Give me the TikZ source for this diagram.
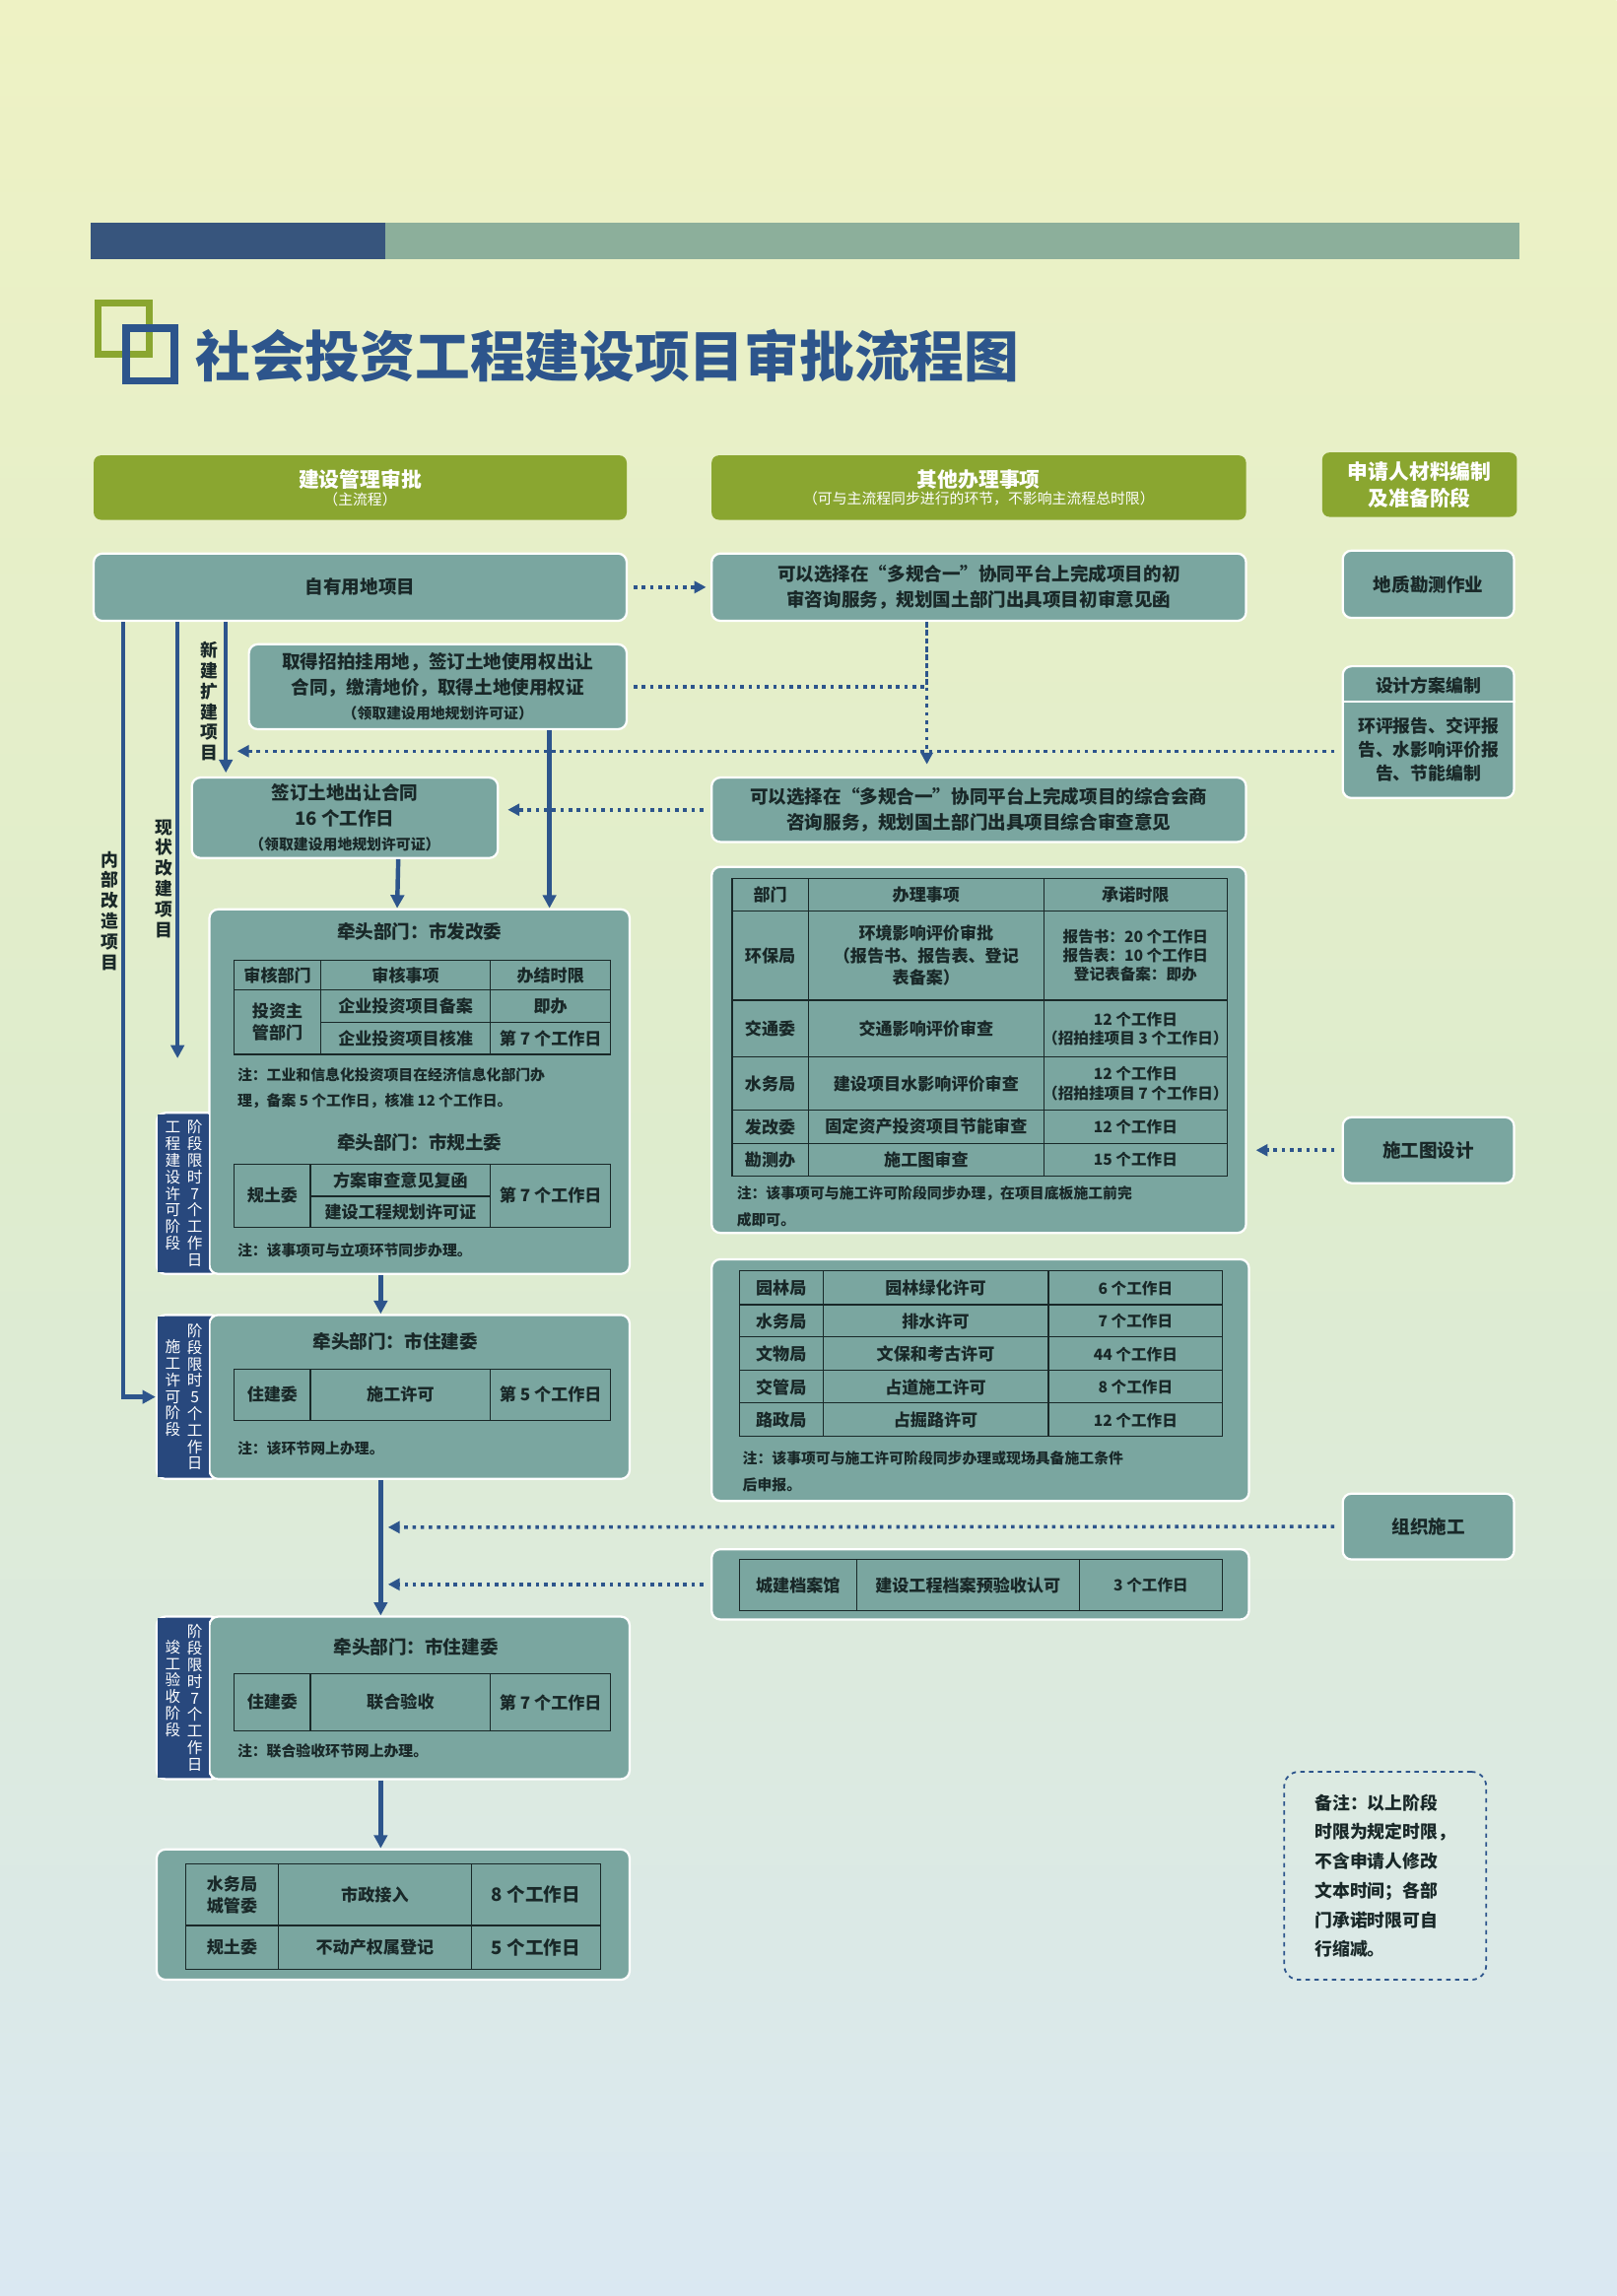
\documentclass[tikz,border=0pt]{standalone}
\usepackage{fontspec}
\setmainfont{Noto Sans CJK SC}
\usepackage{xcolor}
\usetikzlibrary{arrows.meta, positioning, calc}

\definecolor{boxc}{RGB}{122,166,160}
\definecolor{headc}{RGB}{138,166,48}
\definecolor{flowc}{RGB}{45,85,140}
\definecolor{tabc}{RGB}{40,72,125}
\definecolor{inkc}{RGB}{25,40,40}
\definecolor{barA}{RGB}{55,85,125}
\definecolor{barB}{RGB}{140,175,155}

\tikzset{
  tbox/.style={draw=white, line width=1.5pt, fill=boxc, rounded corners=6pt, text=inkc,
    font=\bfseries\fontsize{12.5}{17}\selectfont, align=center, inner sep=2pt},
  hbox/.style={fill=headc, rounded corners=5pt, text=white, align=center, inner sep=2pt},
  tabbox/.style={fill=tabc, draw=white, line width=1.5pt, rounded corners=6pt},
  vtxt/.style={text=white, align=center, inner sep=0pt, font=\fontsize{10.5}{11.3}\selectfont},
  vlab/.style={text=inkc, align=center, inner sep=0pt, font=\bfseries\fontsize{12}{14}\selectfont},
  cell/.style={text=inkc, align=center, inner sep=0pt, font=\bfseries\fontsize{11.5}{15}\selectfont},
  small/.style={cell, font=\bfseries\fontsize{10.5}{13}\selectfont},
  note/.style={text=inkc, align=left, anchor=west, inner sep=0pt, font=\bfseries\fontsize{10}{13}\selectfont},
  grid/.style={draw=inkc, line width=0.8pt},
  arr/.style={draw=flowc, line width=3pt, -{Triangle[length=9pt,width=9pt]}},
  dotarr/.style={draw=flowc, line width=2.4pt, dash pattern=on 2.4pt off 3.2pt, -{Triangle[length=8pt,width=8pt]}},
  dotline/.style={draw=flowc, line width=2.4pt, dash pattern=on 2.4pt off 3.2pt}
}

\begin{document}
\begin{tikzpicture}[x=1pt, y=-1pt]
  % page
  \useasboundingbox (0,0) rectangle (1104,1568);
  \shade[top color={rgb,255:red,238;green,242;blue,196}, bottom color={rgb,255:red,218;green,232;blue,242},
    middle color={rgb,255:red,222;green,236;blue,205}] (0,0) rectangle (1104,1568);

  % top bar and title
  \fill[barB] (62,152) rectangle (1038,177);
  \fill[barA] (62,152) rectangle (263,177);
  \draw[headc, line width=5pt] (67,207) rectangle (102,242);
  \draw[flowc, line width=5pt] (86,224) rectangle (119,260);
  \node[anchor=west, text=flowc, font=\bfseries\fontsize{37.5}{42}\selectfont] (title) at (130,243) {社会投资工程建设项目审批流程图};

  % column heads
  \node[hbox, minimum width=364pt, minimum height=44pt] (hA) at (246,333)
    {{\bfseries\fontsize{14}{17}\selectfont 建设管理审批}\\{\fontsize{10}{12}\selectfont （主流程）}};
  \node[hbox, minimum width=365pt, minimum height=44pt] (hB) at (668.5,333)
    {{\bfseries\fontsize{14}{17}\selectfont 其他办理事项}\\{\fontsize{10}{12}\selectfont （可与主流程同步进行的环节，不影响主流程总时限）}};
  \node[hbox, minimum width=133pt, minimum height=44pt, font=\bfseries\fontsize{14}{18}\selectfont] (hC) at (969.5,331)
    {申请人材料编制\\及准备阶段};

  % first row
  \node[tbox, minimum width=364pt, minimum height=46pt] (own) at (246,401) {自有用地项目};
  \node[tbox, minimum width=365pt, minimum height=46pt] (pre1) at (668.5,401)
    {可以选择在“多规合一”协同平台上完成项目的初\\审咨询服务，规划国土部门出具项目初审意见函};
  \node[tbox, minimum width=117pt, minimum height=46pt] (geo) at (975.5,399) {地质勘测作业};
  \node[tbox, minimum width=258pt, minimum height=58pt] (land) at (299,469)
    {取得招拍挂用地，签订土地使用权出让\\合同，缴清地价，取得土地使用权证\\{\fontsize{10}{13}\selectfont （领取建设用地规划许可证）}};
  \node[tbox, minimum width=117pt, minimum height=90pt] (design) at (975.5,500) {};
  \draw[white, line width=1.5pt] ([yshift=-25pt]design.north west) -- ([yshift=-25pt]design.north east);
  \node[cell, font=\bfseries\fontsize{12}{15}\selectfont] (designA) at (975.5,468) {设计方案编制};
  \node[cell, font=\bfseries\fontsize{12}{16}\selectfont] (designB) at (975.5,512) {环评报告、交评报\\告、水影响评价报\\告、节能编制};
  \node[tbox, minimum width=209pt, minimum height=55pt] (sign) at (235.5,558.5)
    {签订土地出让合同\\16 个工作日\\{\fontsize{10}{13}\selectfont （领取建设用地规划许可证）}};
  \node[tbox, minimum width=365pt, minimum height=44pt] (pre2) at (668.5,553)
    {可以选择在“多规合一”协同平台上完成项目的综合会商\\咨询服务，规划国土部门出具项目综合审查意见};

  % stage 1
  \node[tabbox, minimum width=43pt, minimum height=110pt] (tab1) at (128.5,815) {};
  \node[tbox, minimum width=287pt, minimum height=249pt] (b1) at (286.5,745.5) {};
  \fill[tabc] (107.8,761) rectangle (143,869);
  \node[vtxt] (tab1a) at (133,815) {阶\\段\\限\\时\\7\\个\\工\\作\\日};
  \node[vtxt] (tab1b) at (118,810) {工\\程\\建\\设\\许\\可\\阶\\段};
  \node[cell, font=\bfseries\fontsize{12.5}{15}\selectfont] (lead1) at (286.5,636) {牵头部门：市发改委};
  \draw[grid] (160,656) rectangle (417,720) (160,676) -- (417,676) (219,698) -- (417,698)
    (219,656) -- (219,720) (335,656) -- (335,720);
  \node[cell] (c11) at (189.5,666) {审核部门};
  \node[cell] (c12) at (277,666) {审核事项};
  \node[cell] (c13) at (376,666) {办结时限};
  \node[cell] (c21) at (189.5,698) {投资主\\管部门};
  \node[cell] (c22) at (277,687) {企业投资项目备案};
  \node[cell] (c23) at (376,687) {即办};
  \node[cell] (c32) at (277,709) {企业投资项目核准};
  \node[cell] (c33) at (376,709) {第 7 个工作日};
  \node[note] (n1a) at (162,734) {注：工业和信息化投资项目在经济信息化部门办};
  \node[note] (n1b) at (162,752) {理，备案 5 个工作日，核准 12 个工作日。};
  \node[cell, font=\bfseries\fontsize{12.5}{15}\selectfont] (lead2) at (286.5,780) {牵头部门：市规土委};
  \draw[grid] (160,795) rectangle (417,838) (212,817) -- (335,817) (212,795) -- (212,838) (335,795) -- (335,838);
  \node[cell] (g1) at (186,816.5) {规土委};
  \node[cell] (g2) at (273.5,806) {方案审查意见复函};
  \node[cell] (g3) at (273.5,827.5) {建设工程规划许可证};
  \node[cell] (g4) at (376,816.5) {第 7 个工作日};
  \node[note] (n2) at (162,854) {注：该事项可与立项环节同步办理。};

  % stage 2
  \node[tabbox, minimum width=43pt, minimum height=112pt] (tab2) at (128.5,954) {};
  \node[tbox, minimum width=287pt, minimum height=112pt] (b2) at (286.5,954) {};
  \fill[tabc] (107.8,899) rectangle (143,1009);
  \node[vtxt] (tab2a) at (133,954) {阶\\段\\限\\时\\5\\个\\工\\作\\日};
  \node[vtxt] (tab2b) at (118,948) {施\\工\\许\\可\\阶\\段};
  \node[cell, font=\bfseries\fontsize{12.5}{15}\selectfont] (lead3) at (270,916) {牵头部门：市住建委};
  \draw[grid] (160,935) rectangle (417,970) (212,935) -- (212,970) (335,935) -- (335,970);
  \node[cell] (s1) at (186,952.5) {住建委};
  \node[cell] (s2) at (273.5,952.5) {施工许可};
  \node[cell] (s3) at (376,952.5) {第 5 个工作日};
  \node[note] (n3) at (162,989) {注：该环节网上办理。};

  % stage 3
  \node[tabbox, minimum width=43pt, minimum height=111pt] (tab3) at (128.5,1159.5) {};
  \node[tbox, minimum width=287pt, minimum height=111pt] (b3) at (286.5,1159.5) {};
  \fill[tabc] (107.8,1105) rectangle (143,1214);
  \node[vtxt] (tab3a) at (133,1159.5) {阶\\段\\限\\时\\7\\个\\工\\作\\日};
  \node[vtxt] (tab3b) at (118,1153) {竣\\工\\验\\收\\阶\\段};
  \node[cell, font=\bfseries\fontsize{12.5}{15}\selectfont] (lead4) at (284,1125) {牵头部门：市住建委};
  \draw[grid] (160,1143) rectangle (417,1182) (212,1143) -- (212,1182) (335,1143) -- (335,1182);
  \node[cell] (v1) at (186,1162.5) {住建委};
  \node[cell] (v2) at (273.5,1162.5) {联合验收};
  \node[cell] (v3) at (376,1162.5) {第 7 个工作日};
  \node[note] (n4) at (162,1196) {注：联合验收环节网上办理。};

  % final box
  \node[tbox, minimum width=323pt, minimum height=89pt] (fin) at (268.5,1307.5) {};
  \draw[grid] (127,1273) rectangle (410,1345) (127,1315) -- (410,1315) (190,1273) -- (190,1345) (322,1273) -- (322,1345);
  \node[cell] (f1) at (158.5,1294) {水务局\\城管委};
  \node[cell] (f2) at (256,1294) {市政接入};
  \node[cell, font=\bfseries\fontsize{12.5}{15}\selectfont] (f3) at (366,1294) {8 个工作日};
  \node[cell] (f4) at (158.5,1330) {规土委};
  \node[cell] (f5) at (256,1330) {不动产权属登记};
  \node[cell, font=\bfseries\fontsize{12.5}{15}\selectfont] (f6) at (366,1330) {5 个工作日};

  % right table 1
  \node[tbox, minimum width=365pt, minimum height=250pt] (r1) at (668.5,717) {};
  \draw[grid] (500,600) rectangle (838,803) (552,600) -- (552,803) (713,600) -- (713,803);
  \foreach \yy in {622,683,722,758,781} \draw[grid] (500,\yy) -- (838,\yy);
  \node[cell] (p0a) at (526,611) {部门};
  \node[cell] (p0b) at (632.5,611) {办理事项};
  \node[cell] (p0c) at (775.5,611) {承诺时限};
  \node[cell] (p1a) at (526,652.5) {环保局};
  \node[cell] (p1b) at (632.5,652.5) {环境影响评价审批\\（报告书、报告表、登记\\表备案）};
  \node[small] (p1c) at (775.5,652.5) {报告书：20 个工作日\\报告表：10 个工作日\\登记表备案：即办};
  \node[cell] (p2a) at (526,702.5) {交通委};
  \node[cell] (p2b) at (632.5,702.5) {交通影响评价审查};
  \node[small] (p2c) at (775.5,702.5) {12 个工作日\\（招拍挂项目 3 个工作日）};
  \node[cell] (p3a) at (526,740) {水务局};
  \node[cell] (p3b) at (632.5,740) {建设项目水影响评价审查};
  \node[small] (p3c) at (775.5,740) {12 个工作日\\（招拍挂项目 7 个工作日）};
  \node[cell] (p4a) at (526,769.5) {发改委};
  \node[cell] (p4b) at (632.5,769.5) {固定资产投资项目节能审查};
  \node[small] (p4c) at (775.5,769.5) {12 个工作日};
  \node[cell] (p5a) at (526,792) {勘测办};
  \node[cell] (p5b) at (632.5,792) {施工图审查};
  \node[small] (p5c) at (775.5,792) {15 个工作日};
  \node[note] (n5a) at (503,815) {注：该事项可与施工许可阶段同步办理，在项目底板施工前完};
  \node[note] (n5b) at (503,833) {成即可。};
  \node[tbox, minimum width=117pt, minimum height=45pt] (drawing) at (975.5,785.5) {施工图设计};

  % right table 2
  \node[tbox, minimum width=367pt, minimum height=165pt] (r2) at (669.5,942.5) {};
  \draw[grid] (505,868) rectangle (835,981) (562,868) -- (562,981) (716,868) -- (716,981);
  \foreach \yy in {891,913,936,958} \draw[grid] (505,\yy) -- (835,\yy);
  \foreach \a/\b/\c [count=\i] in {园林局/园林绿化许可/6 个工作日, 水务局/排水许可/7 个工作日,
      文物局/文保和考古许可/44 个工作日, 交管局/占道施工许可/8 个工作日, 路政局/占掘路许可/12 个工作日}{
    \node[cell] (q\i a) at (533.5,857+22.6*\i) {\a};
    \node[cell] (q\i b) at (639,857+22.6*\i) {\b};
    \node[small] (q\i c) at (775.5,857+22.6*\i) {\c};
  }
  \node[note] (n6a) at (507,996) {注：该事项可与施工许可阶段同步办理或现场具备施工条件};
  \node[note] (n6b) at (507,1014) {后申报。};
  \node[tbox, minimum width=117pt, minimum height=45pt] (org) at (975.5,1042.5) {组织施工};

  % archive
  \node[tbox, minimum width=367pt, minimum height=48pt] (arch) at (669.5,1082) {};
  \draw[grid] (505,1065) rectangle (835,1100) (585,1065) -- (585,1100) (737,1065) -- (737,1100);
  \node[cell] (ar1) at (545,1082.5) {城建档案馆};
  \node[cell] (ar2) at (661,1082.5) {建设工程档案预验收认可};
  \node[small] (ar3) at (786,1082.5) {3 个工作日};

  % remark
  \node[draw=flowc, dashed, line width=1.2pt, rounded corners=10pt, minimum width=138pt, minimum height=142pt] (rem) at (946,1281) {};
  \node[cell, align=left, font=\bfseries\fontsize{12}{20}\selectfont] (remt) at (946,1281)
    {备注：以上阶段\\时限为规定时限，\\不含申请人修改\\文本时间；各部\\门承诺时限可自\\行缩减。};

  % side labels
  \node[vlab] (lab1) at (75,622) {内\\部\\改\\造\\项\\目};
  \node[vlab] (lab2) at (112,600) {现\\状\\改\\建\\项\\目};
  \node[vlab] (lab3) at (143,479) {新\\建\\扩\\建\\项\\目};

  % main flow
  \draw[arr] ([xshift=21pt]own.south west) |- (tab2.west);
  \draw[arr] ([xshift=58pt]own.south west) -- ++(0,298);
  \draw[arr] ([xshift=91pt]own.south west) -- ++(0,103);
  \draw[arr] ([xshift=206pt]land.south west) -- ([xshift=233pt]b1.north west);
  \draw[arr] ([xshift=36.5pt]sign.south) -- ([xshift=129pt]b1.north west);
  \draw[arr] ([xshift=-26.5pt]b1.south) -- ([xshift=-26.5pt]b2.north);
  \draw[arr] ([xshift=-26.5pt]b2.south) -- ([xshift=-26.5pt]b3.north);
  \draw[arr] ([xshift=-26.5pt]b3.south) -- ([xshift=-8.5pt]fin.north);

  % side flows
  \coordinate (j) at (633,522);
  \coordinate (k) at (162,513);
  \coordinate (m) at (265,1043);
  \draw[dotarr, shorten <=4pt, shorten >=3pt] (own.east) -- (pre1.west);
  \draw[dotline, shorten <=4pt] (land.east) -| ([xshift=-35.5pt]pre1.south);
  \draw[dotarr] ([xshift=-35.5pt]pre1.south) -- (j);
  \draw[dotarr, shorten <=5pt] ([yshift=-13pt]design.west) -- (k);
  \draw[dotarr, shorten <=5pt, shorten >=6pt] (pre2.west) -- (pre2.west -| sign.east);
  \draw[dotarr, shorten <=5pt, shorten >=6pt] (drawing.west) -- (drawing.west -| r1.east);
  \draw[dotarr, shorten <=5pt] (org.west) -- (m);
  \draw[dotarr, shorten <=5pt] (arch.west) -- (arch.west -| m);
\end{tikzpicture}
\end{document}
